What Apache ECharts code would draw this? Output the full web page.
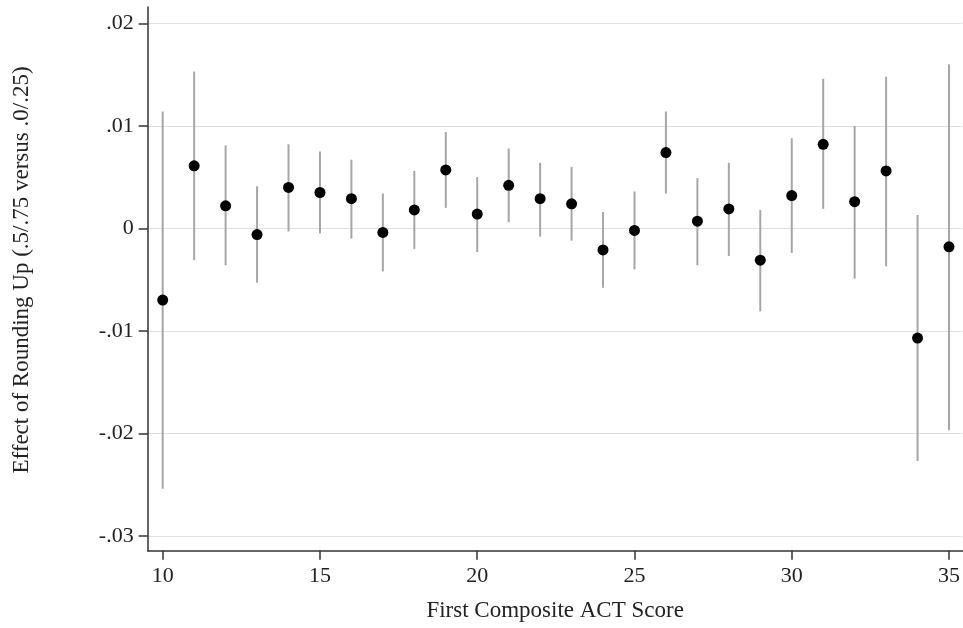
<!DOCTYPE html>
<html>
<head>
<meta charset="utf-8">
<script src="https://cdn.jsdelivr.net/npm/echarts@6/dist/echarts.min.js"></script>
<style>html,body{margin:0;padding:0;background:#fff}#c{width:963px;height:628px}</style>
</head>
<body>
<div id="c"></div>
<script>
const scores = [10,11,12,13,14,15,16,17,18,19,20,21,22,23,24,25,26,27,28,29,30,31,32,33,34,35];
const estimates = [-0.0070,0.0061,0.0022,-0.0006,0.0040,0.0035,0.0029,-0.0004,0.0018,0.0057,0.0014,0.0042,0.0029,0.0024,-0.0021,-0.0002,0.0074,0.0007,0.0019,-0.0031,0.0032,0.0082,0.0026,0.0056,-0.0107,-0.0018];
const upper = [0.0114,0.0153,0.0081,0.0041,0.0082,0.0075,0.0067,0.0034,0.0056,0.0094,0.0050,0.0078,0.0064,0.0060,0.0016,0.0036,0.0114,0.0049,0.0064,0.0018,0.0088,0.0146,0.0100,0.0148,0.0013,0.0160];
const lower = [-0.0254,-0.0031,-0.0036,-0.0053,-0.0003,-0.0005,-0.0010,-0.0042,-0.0020,0.0020,-0.0023,0.0006,-0.0008,-0.0012,-0.0058,-0.0040,0.0034,-0.0036,-0.0027,-0.0081,-0.0024,0.0019,-0.0049,-0.0037,-0.0227,-0.0197];
const xTicks = [10,15,20,25,30,35];
const yTicks = [-0.03,-0.02,-0.01,0,0.01,0.02];
const xTitle = 'First Composite ACT Score';
const yTitle = 'Effect of Rounding Up (.5/.75 versus .0/.25)';

function fmtY(v){
  if (Math.abs(v) < 1e-9) return '0';
  const s = v.toFixed(2);
  return s.replace('0.', '.');
}

const font = '"Liberation Serif", "DejaVu Serif", serif';
const chart = echarts.init(document.getElementById('c'), null, {renderer:'canvas'});
chart.setOption({
  animation:false,
  backgroundColor:'#fff',
  grid:{left:147.7, right:0, top:7, bottom:77.3, containLabel:false},
  graphic:[{
    type:'text', x:22, y:270, rotation:Math.PI/2,
    style:{text:yTitle, fontFamily:font, fontSize:23, fill:'#222', align:'center', verticalAlign:'middle'}
  }],
  xAxis:{
    type:'value', min:9.523, max:35.43,
    name:xTitle, nameLocation:'middle', nameGap:49,
    nameTextStyle:{fontFamily:font, fontSize:23, color:'#222'},
    axisLine:{show:true, onZero:false, lineStyle:{color:'#333', width:1.5}},
    axisTick:{show:true, length:9, lineStyle:{color:'#333', width:1.5}, customValues:xTicks},
    axisLabel:{fontFamily:font, fontSize:22, color:'#222', margin:15, customValues:xTicks},
    splitLine:{show:false}
  },
  yAxis:{
    type:'value', min:-0.03145, max:0.0216,
    axisLine:{show:true, onZero:false, lineStyle:{color:'#333', width:1.5}},
    axisTick:{show:true, length:9, lineStyle:{color:'#333', width:1.5}, customValues:yTicks},
    axisLabel:{fontFamily:font, fontSize:22, color:'#222', margin:14, customValues:yTicks, formatter:fmtY},
    splitLine:{show:true, lineStyle:{color:'#e0e0e0', width:1}}
  },
  series:[
    {
      type:'custom',
      data: scores.map((s,i)=>[s, lower[i], upper[i]]),
      renderItem:function(params, api){
        const p1 = api.coord([api.value(0), api.value(1)]);
        const p2 = api.coord([api.value(0), api.value(2)]);
        return {type:'line', shape:{x1:p1[0], y1:p1[1], x2:p2[0], y2:p2[1]},
          style:{stroke:'#a6a6a6', lineWidth:2}};
      },
      encode:{x:0, y:[1,2]},
      z:2
    },
    {
      type:'scatter',
      data: scores.map((s,i)=>[s, estimates[i]]),
      symbol:'circle', symbolSize:11,
      itemStyle:{color:'#000', opacity:1},
      z:3
    }
  ]
});
</script>
</body>
</html>
